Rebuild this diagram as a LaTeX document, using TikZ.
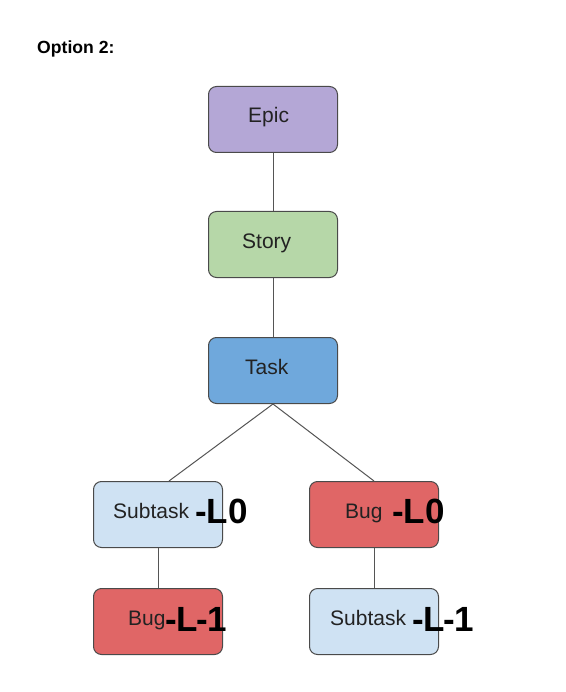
\documentclass[tikz,border=0pt]{standalone}
\usepackage{fontspec}
\setmainfont{Liberation Sans}
\begin{document}
\begin{tikzpicture}[x=1pt,y=-1pt,
  box/.style={draw=boxline,line width=1pt,rounded corners=8pt,minimum width=129pt,minimum height=66pt,inner sep=0pt,anchor=north west},
  word/.style={anchor=base west,inner sep=0pt,text=wordcol,font=\fontsize{21}{24}\selectfont},
  lvl/.style={anchor=base west,inner sep=0pt,text=black,font=\fontsize{35}{38}\selectfont\bfseries},
  conn/.style={draw=connline,line width=1pt}]
\definecolor{boxline}{HTML}{4A4A4A}
\definecolor{connline}{HTML}{555555}
\definecolor{wordcol}{HTML}{222222}
\definecolor{epicc}{HTML}{B4A7D6}
\definecolor{storyc}{HTML}{B6D7A8}
\definecolor{taskc}{HTML}{6FA8DC}
\definecolor{subc}{HTML}{CFE2F3}
\definecolor{bugc}{HTML}{E06666}
\useasboundingbox[fill=white] (0,0) rectangle (565,692);
\node[anchor=base west,inner sep=0pt,font=\fontsize{17.6}{20}\selectfont\bfseries] (title) at (37,54) {Option 2:};
\node[box,fill=epicc] (epic) at (208,86) {};
\node[box,fill=storyc] (story) at (208,211) {};
\node[box,fill=taskc] (task) at (208,337) {};
\node[box,fill=subc] (sub0) at (93,481) {};
\node[box,fill=bugc] (bug0) at (309,481) {};
\node[box,fill=bugc] (bug1) at (93,588) {};
\node[box,fill=subc] (sub1) at (309,588) {};
\draw[conn] (epic.south) -- (story.north);
\draw[conn] (story.south) -- (task.north);
\draw[conn] (task.south) -- ([xshift=11pt]sub0.north);
\draw[conn] (task.south) -- (bug0.north);
\draw[conn] (sub0.south) -- (bug1.north);
\draw[conn] (bug0.south) -- (sub1.north);
\node[word] (epict) at (248,123) {Epic};
\node[word] (storyt) at (242,248) {Story};
\node[word] (taskt) at (245,374) {Task};
\node[word] (sub0t) at (113,518) {Subtask};
\node[lvl] (sub0l) at (195,523) {-L0};
\node[word] (bug0t) at (345,518) {Bug};
\node[lvl] (bug0l) at (392,523) {-L0};
\node[word] (bug1t) at (128,625) {Bug};
\node[lvl] (bug1l) at (165,631.5) {-L\kern-1.5pt-\kern-0.5pt1};
\node[word] (sub1t) at (330,625) {Subtask};
\node[lvl] (sub1l) at (412,631.5) {-L\kern-1.5pt-\kern-0.5pt1};
\end{tikzpicture}
\end{document}
